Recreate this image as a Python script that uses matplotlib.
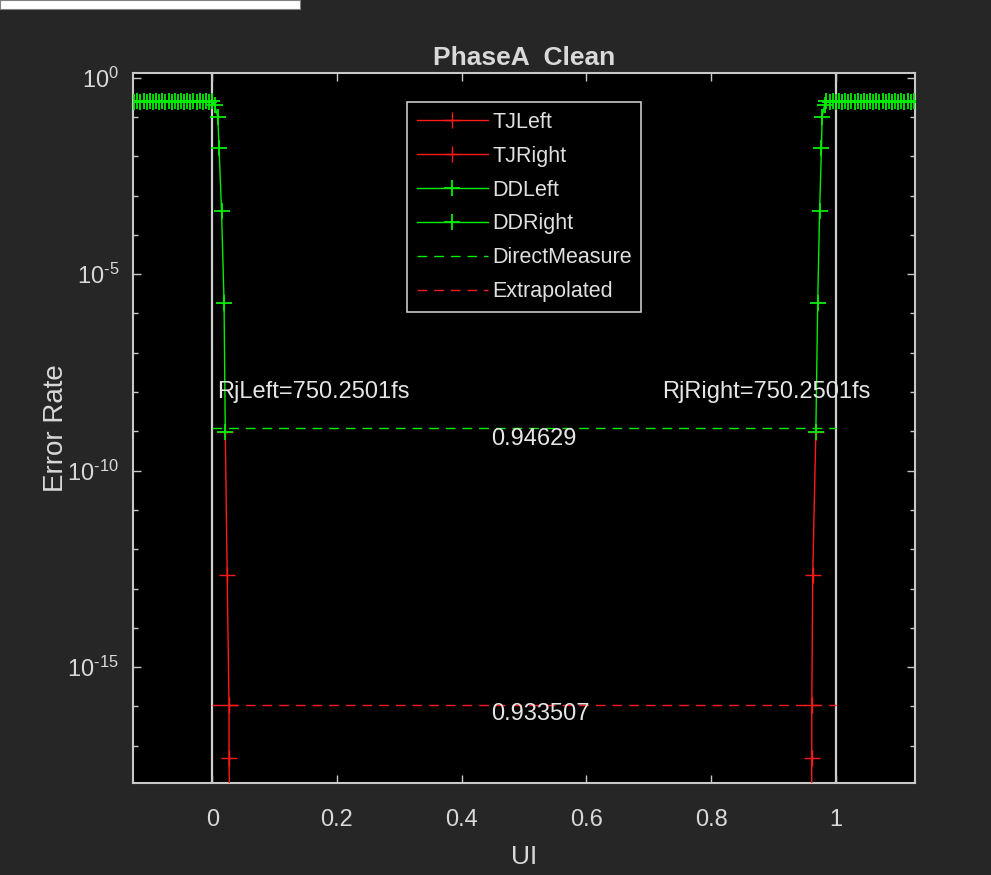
import matplotlib
matplotlib.use("Agg")
import math
import matplotlib.pyplot as plt
from matplotlib.ticker import FixedLocator, NullFormatter, FuncFormatter
from matplotlib.patches import Rectangle

plt.rcParams['font.family'] = ['Liberation Sans', 'DejaVu Sans']
plt.rcParams['mathtext.fontset'] = 'custom'
plt.rcParams['mathtext.rm'] = 'Liberation Sans'
plt.rcParams['mathtext.it'] = 'Liberation Sans:italic'
plt.rcParams['mathtext.bf'] = 'Liberation Sans:bold'

# ---------------- data ----------------
title = "PhaseA  Clean"
xlabel = "UI"
ylabel = "Error Rate"

dd_left_x = [-0.13, -0.125, -0.12, -0.115, -0.11, -0.105, -0.10, -0.095, -0.09, -0.085,
             -0.08, -0.075, -0.07, -0.065, -0.06, -0.055, -0.05, -0.045, -0.04, -0.035,
             -0.03, -0.025, -0.02, -0.015, -0.01, -0.005, 0.0,
             0.004, 0.009, 0.011, 0.015, 0.019, 0.021]
dd_left_y = [0.26, 0.24, 0.26, 0.24, 0.26, 0.24, 0.26, 0.24, 0.26, 0.24,
             0.26, 0.24, 0.26, 0.24, 0.26, 0.24, 0.26, 0.24, 0.26, 0.24,
             0.26, 0.24, 0.26, 0.24, 0.26, 0.24, 0.25,
             0.2, 0.1, 0.016, 4e-4, 1.9e-6, 9.5e-10]

dd_right_x = [0.968, 0.971, 0.974, 0.977, 0.978, 0.982, 0.985, 0.99, 0.995, 1.0,
              1.005, 1.01, 1.015, 1.02, 1.025, 1.03, 1.035, 1.04, 1.045, 1.05,
              1.055, 1.06, 1.065, 1.07, 1.075, 1.08, 1.085, 1.09, 1.095, 1.10,
              1.105, 1.11, 1.115, 1.12, 1.125, 1.13]
dd_right_y = [9.5e-10, 1.9e-6, 4e-4, 0.016, 0.1, 0.2, 0.25, 0.24, 0.26, 0.24,
              0.26, 0.24, 0.26, 0.24, 0.26, 0.24, 0.26, 0.24, 0.26, 0.24,
              0.26, 0.24, 0.26, 0.24, 0.26, 0.24, 0.26, 0.24, 0.26, 0.24,
              0.26, 0.24, 0.26, 0.24, 0.26, 0.24]

tj_left_x = [0.021, 0.024, 0.027, 0.027, 0.028]
tj_left_y = [9.5e-10, 2.2e-13, 1.07e-16, 4.8e-18, 1e-19]

tj_right_x = [0.968, 0.963, 0.9615, 0.9615, 0.961]
tj_right_y = [9.5e-10, 2.2e-13, 1.07e-16, 4.8e-18, 1e-19]

direct_x = [0.0, 1.0]
direct_y = [1.2e-9, 1.2e-9]
extrap_x = [0.0, 1.0]
extrap_y = [1.07e-16, 1.07e-16]

edge_lines = [0.0, 1.0]

rj_left_text = "RjLeft=750.2501fs"
rj_right_text = "RjRight=750.2501fs"
rj_left_pos = (0.0075, 1e-8)
rj_right_pos = (0.721, 1e-8)
direct_label = "0.94629"
extrap_label = "0.933507"
direct_label_pos = (0.448, 6.5e-10)
extrap_label_pos = (0.448, 6.5e-17)

xticks = [0, 0.2, 0.4, 0.6, 0.8, 1.0]
xticklabels = ["0", "0.2", "0.4", "0.6", "0.8", "1"]
yticks_major = [1e0, 1e-5, 1e-10, 1e-15]
yticks_minor = [10.0 ** k for k in range(-17, 1)]
xlim = (-0.127, 1.127)
ylim = (10 ** -17.95, 10 ** 0.12)

# ---------------- style ----------------
BG = '#262626'
TXT = '#d9d9d9'
AX = '#c8c8c8'
RED = '#ff1a1a'
GREEN = '#00ee00'

fig = plt.figure(figsize=(9.91, 8.75), dpi=100, facecolor=BG)
ax = fig.add_axes([133 / 991, 1 - 783 / 875, (915 - 133) / 991, (783 - 73) / 875])
ax.set_facecolor('black')

ms = 11
for xv in edge_lines:
    ax.axvline(xv, color='#d0d0d0', lw=1.6, zorder=1)

ax.plot(tj_left_x, tj_left_y, color=RED, lw=1.0, marker='+', ms=ms, mew=1.0, label='TJLeft', zorder=3)
ax.plot(tj_right_x, tj_right_y, color=RED, lw=1.0, marker='+', ms=ms, mew=1.0, label='TJRight', zorder=3)
ax.plot(dd_left_x, dd_left_y, color=GREEN, lw=1.0, marker='+', ms=ms, mew=1.3, label='DDLeft', zorder=4)
ax.plot(dd_right_x, dd_right_y, color=GREEN, lw=1.0, marker='+', ms=ms, mew=1.3, label='DDRight', zorder=4)
ax.plot(direct_x, direct_y, color=GREEN, lw=1.0, dashes=(7, 5), label='DirectMeasure', zorder=2)
ax.plot(extrap_x, extrap_y, color=RED, lw=1.0, dashes=(7, 5), label='Extrapolated', zorder=2)

ax.set_yscale('log')
ax.set_xlim(*xlim)
ax.set_ylim(*ylim)
ax.set_xticks(xticks)
ax.set_xticklabels(xticklabels)
ax.yaxis.set_major_locator(FixedLocator(yticks_major))
ax.yaxis.set_minor_locator(FixedLocator(yticks_minor))


def log_fmt(v, pos):
    e = int(round(math.log10(v)))
    if e < 0:
        return r'$10^{\text{-}%d}$' % (-e)
    return r'$10^{%d}$' % e


ax.yaxis.set_major_formatter(FuncFormatter(log_fmt))
ax.yaxis.set_minor_formatter(NullFormatter())

ax.tick_params(which='both', direction='in', top=True, right=True, colors=AX, labelcolor=TXT)
ax.tick_params(axis='x', which='major', length=6, width=1, pad=19, labelsize=17)
ax.tick_params(axis='y', which='major', length=6, width=1, pad=10, labelsize=17)
ax.tick_params(axis='y', which='minor', length=3.5, width=1)
for sp in ax.spines.values():
    sp.set_color(AX)
    sp.set_linewidth(1.5)

ax.set_title(title, color=TXT, fontsize=19, fontweight='bold', pad=6)
ax.set_xlabel(xlabel, color=TXT, fontsize=19, labelpad=10)
ax.set_ylabel(ylabel, color=TXT, fontsize=20, labelpad=-1)

tkw = dict(color='#e6e6e6', fontsize=17, va='center', ha='left', zorder=6)
ax.text(*rj_left_pos, rj_left_text, **tkw)
ax.text(*rj_right_pos, rj_right_text, **tkw)
ax.text(*direct_label_pos, direct_label, **tkw)
ax.text(*extrap_label_pos, extrap_label, **tkw)

leg = ax.legend(loc='upper left', bbox_to_anchor=((407 - 133) / 782, (783 - 102) / 710),
                borderaxespad=0, fontsize=15.5, frameon=True, fancybox=False,
                handlelength=3.3, handletextpad=0.2, labelspacing=0.6, borderpad=0.45)
leg.get_frame().set_facecolor('black')
leg.get_frame().set_edgecolor('#c8c8c8')
leg.get_frame().set_linewidth(1.2)
leg.get_frame().set_alpha(1)
for t in leg.get_texts():
    t.set_color('#e0e0e0')

# window caption strip at top-left
fig.add_artist(Rectangle((0, 1 - 9 / 875), 300 / 991, 9 / 875, transform=fig.transFigure,
                         facecolor='white', edgecolor='#808080', lw=0.8))

fig.savefig('out.png', dpi=100, facecolor=BG)
